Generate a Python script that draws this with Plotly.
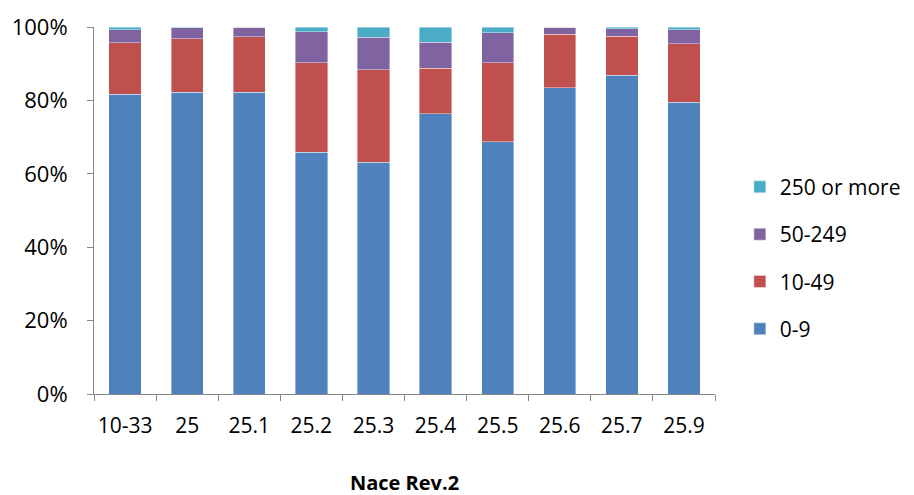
import plotly.graph_objects as go

categories = ["10-33", "25", "25.1", "25.2", "25.3", "25.4", "25.5", "25.6", "25.7", "25.9"]
s_0_9 = [81.7, 82.2, 82.2, 65.9, 63.2, 76.3, 68.7, 83.5, 86.8, 79.5]
s_10_49 = [14.0, 14.6, 15.1, 24.4, 25.2, 12.4, 21.6, 14.5, 10.7, 15.9]
s_50_249 = [3.6, 3.0, 2.7, 8.4, 8.8, 7.2, 8.1, 2.0, 2.0, 3.9]
s_250 = [0.7, 0.2, 0.0, 1.3, 2.8, 4.1, 1.6, 0.0, 0.5, 0.7]

series = [("0-9", s_0_9, "#4F81BD"), ("10-49", s_10_49, "#C0504D"),
          ("50-249", s_50_249, "#8064A2"), ("250 or more", s_250, "#4BACC6")]

FONT = "Open Sans"
fig = go.Figure()
for i, (name, vals, col) in enumerate(series):
    fig.add_trace(go.Bar(x=categories, y=[v / 100 for v in vals], name=name, legendgroup=name,
                         legendrank=10 - i,
                         marker=dict(color=col, line=dict(color="rgba(255,255,255,0.5)", width=0.8))))

fig.update_layout(
    width=914, height=495, barmode="stack", bargap=0.48,
    plot_bgcolor="white", paper_bgcolor="white",
    margin=dict(l=86, r=207, t=19, b=109, autoexpand=False),
    font=dict(family=FONT, size=21, color="black"),
    legend=dict(x=1.04, y=0.37, yanchor="middle", xanchor="left", traceorder="grouped",
                tracegroupgap=17, font=dict(family=FONT, size=21)),
    xaxis=dict(showline=True, linecolor="#888", linewidth=1, ticks="outside", tickson="boundaries",
               ticklen=6, tickcolor="#888", showgrid=False, automargin=False, tickangle=0,
               ticklabelstandoff=13,
               tickfont=dict(family=FONT, size=21),
               title=dict(text="<b>Nace Rev.2</b>", font=dict(family=FONT, size=20), standoff=37)),
    yaxis=dict(range=[0, 1], tickformat=".0%", dtick=0.2, showline=True, linecolor="#888", linewidth=1,
               ticks="outside", ticklen=6, tickcolor="#888", showgrid=False, automargin=False,
               ticklabelstandoff=15,
               tickfont=dict(family=FONT, size=22)),
)
fig.write_html("out.html")
